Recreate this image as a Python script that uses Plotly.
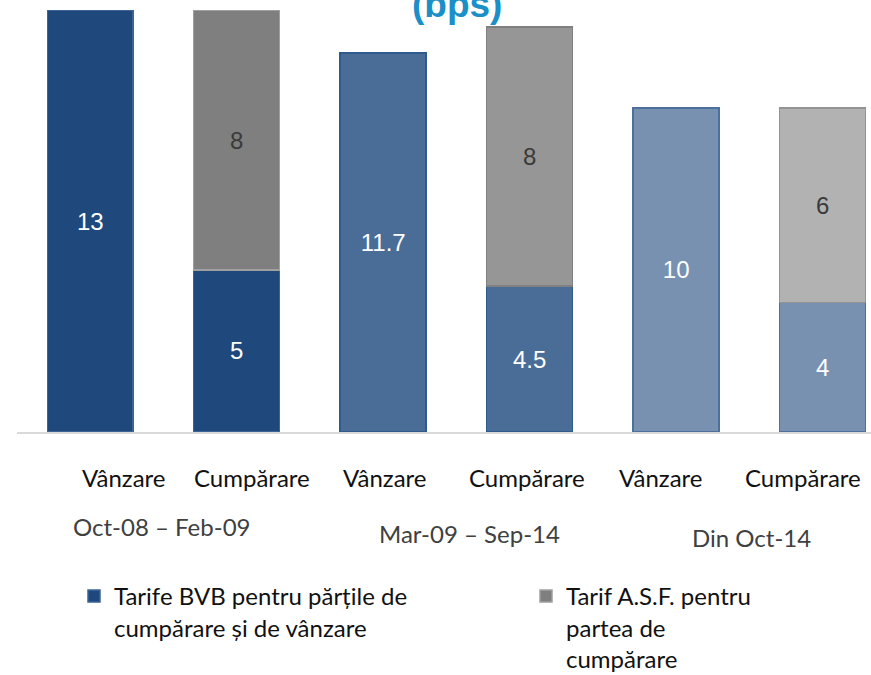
import plotly.graph_objects as go

categories = ["Vânzare", "Cumpărare", "Vânzare", "Cumpărare", "Vânzare", "Cumpărare"]
bvb_values = [13, 5, 11.7, 4.5, 10, 4]
asf_values = [None, 8, None, 8, None, 6]
periods = ["Oct-08 – Feb-09", "Mar-09 – Sep-14", "Din Oct-14"]
series_names = ["Tarife BVB pentru părțile de<br>cumpărare și de vânzare",
                "Tarif A.S.F. pentru<br>partea de<br>cumpărare"]

W, H = 871, 675
L, R, T, B = 17, 0, 0, 243
PW, PH = W - L - R, H - T - B

def px(x):
    return (x - L) / PW

def py(y):
    return (H - B - y) / PH

blue_cols = ["#1F497D", "#1F497D", "#4A6D98", "#4A6D98", "#7891B1", "#7891B1"]
blue_lines = ["#3E6496", "#3E6496", "#2F5A8E", "#2F5A8E", "#4D6F9E", "#4D6F9E"]
grey_cols = ["#7F7F7F", "#7F7F7F", "#969696", "#969696", "#B2B2B2", "#B2B2B2"]
grey_lines = ["#A0A0A0", "#A0A0A0", "#808080", "#808080", "#939393", "#939393"]

x_idx = list(range(len(categories)))

fig = go.Figure()
fig.add_trace(go.Bar(
    x=x_idx, y=bvb_values, name=series_names[0], legend="legend",
    marker=dict(color=blue_cols, line=dict(color=blue_lines, width=1.5)),
    text=[str(v) for v in bvb_values], textposition="inside",
    insidetextanchor="middle",
    textfont=dict(family="Liberation Sans, Arial", size=24, color="white"),
    hoverinfo="skip",
))
fig.add_trace(go.Bar(
    x=x_idx, y=asf_values, name=series_names[1], legend="legend2",
    marker=dict(color=grey_cols, line=dict(color=grey_lines, width=1.5)),
    text=[("" if v is None else str(v)) for v in asf_values], textposition="inside",
    insidetextanchor="middle",
    textfont=dict(family="Liberation Sans, Arial", size=24, color="#3A3A3A"),
    hoverinfo="skip",
))

ann = []
# title (partially cut at top, as in the original)
ann.append(dict(text="<b>(bps)</b>", x=px(457), y=py(27), xref="paper", yref="paper",
                xanchor="center", yanchor="bottom", showarrow=False,
                font=dict(family="Liberation Sans, Arial", size=37, color="#1B8FC7")))
# category labels
label_shift = [34, 15, 2, -3, -15, -20]
for i, c in enumerate(categories):
    ann.append(dict(text=c, x=i, xref="x", xshift=label_shift[i], y=py(477), yref="paper",
                    xanchor="center", yanchor="middle", showarrow=False,
                    font=dict(family="Lato", size=24, color="#111111")))
# period labels
period_x = [161, 469, 751]
period_y = [526, 533, 537]
for p, xx, yy in zip(periods, period_x, period_y):
    ann.append(dict(text=p, x=px(xx), y=py(yy), xref="paper", yref="paper",
                    xanchor="center", yanchor="middle", showarrow=False,
                    font=dict(family="Lato", size=24, color="#404040")))

leg_common = dict(orientation="v", xref="container", yref="container",
                  xanchor="left", yanchor="top", valign="top",
                  font=dict(family="Lato", size=24, color="#111111"),
                  itemclick=False, itemdoubleclick=False, bgcolor="rgba(0,0,0,0)")

fig.update_layout(
    width=W, height=H,
    margin=dict(l=L, r=R, t=T, b=B, autoexpand=False),
    barmode="stack", bargap=0.413,
    plot_bgcolor="white", paper_bgcolor="white",
    xaxis=dict(range=[-0.5, 5.33], showticklabels=False, ticks="", showgrid=False,
               zeroline=False, showline=True, linecolor="#D9D9D9", linewidth=2),
    yaxis=dict(range=[0, 13.33], visible=False, showgrid=False, zeroline=False),
    annotations=ann,
    showlegend=True,
    legend=dict(x=74 / W, y=(H - 574) / H, **leg_common),
    legend2=dict(x=526 / W, y=(H - 574) / H, **leg_common),
)

fig.write_html("out.html", config={"displayModeBar": False},
               post_script="document.body.style.margin='0';")
